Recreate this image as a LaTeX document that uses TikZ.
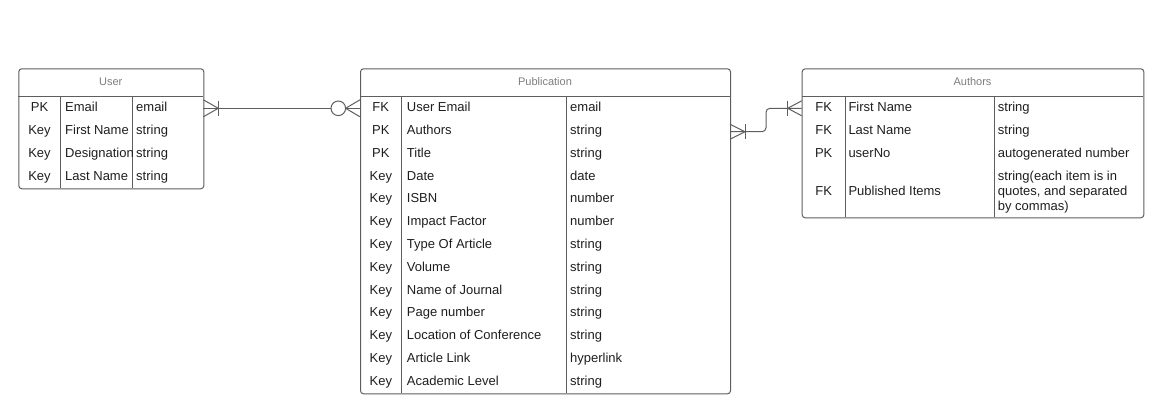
\documentclass[tikz,border=0pt]{standalone}
\usepackage{fontspec}
\setmainfont{Liberation Sans}
\usepackage{xcolor}
\usepackage{tikz}
\definecolor{er_line}{RGB}{94, 94, 94}
\definecolor{er_title}{RGB}{125, 125, 125}
\definecolor{er_text}{RGB}{30, 30, 30}

\tikzset{
  entity/.style={draw=er_line, line width=1pt, rounded corners=3pt, anchor=north west, inner sep=0pt},
  divider/.style={draw=er_line, line width=1pt},
  entity title/.style={text=er_title, font=\fontsize{11}{13}\selectfont, inner sep=0pt, anchor=base},
  field/.style={text=er_text, font=\fontsize{13}{15}\selectfont, inner sep=0pt, anchor=base west},
  key field/.style={field, anchor=base},
  relation/.style={draw=er_line, line width=1pt},
}

\begin{document}
\begin{tikzpicture}[x=1pt, y=-1pt]
\useasboundingbox (0,0) rectangle (1167,420);

% User table
\node[entity, minimum width=185pt, minimum height=120pt] (user) at (18.3,68.3) {};
\node[entity title] (user-title) at (110.8,85) {User};
\draw[divider] (18.3,96.7) -- (203.3,96.7);
\draw[divider] (60.7,96.7) -- (60.7,188.3);
\draw[divider] (132.3,96.7) -- (132.3,188.3);
\foreach \k/\n/\t [count=\i] in {PK/Email/email, Key/First Name/string, Key/Designation/string, Key/Last Name/string} {
  \node[key field] (user-k\i) at (39.5,{111.6+22.8*(\i-1)}) {\k};
  \node[field] (user-n\i) at (65,{111.6+22.8*(\i-1)}) {\n};
  \node[field] (user-t\i) at (136,{111.6+22.8*(\i-1)}) {\t};
}

% Publication table
\node[entity, minimum width=370pt, minimum height=325pt] (pub) at (360,68.3) {};
\node[entity title] (pub-title) at (545,85) {Publication};
\draw[divider] (360,96.7) -- (730,96.7);
\draw[divider] (401.7,96.7) -- (401.7,393.3);
\draw[divider] (566.7,96.7) -- (566.7,393.3);
\foreach \k/\n/\t [count=\i] in {FK/User Email/email, PK/Authors/string, PK/Title/string,
    Key/Date/date, Key/ISBN/number, Key/Impact Factor/number, Key/Type Of Article/string,
    Key/Volume/string, Key/Name of Journal/string, Key/Page number/string,
    Key/Location of Conference/string, Key/Article Link/hyperlink, Key/Academic Level/string} {
  \node[key field] (pub-k\i) at (380.8,{111.6+22.8*(\i-1)}) {\k};
  \node[field] (pub-n\i) at (406.7,{111.6+22.8*(\i-1)}) {\n};
  \node[field] (pub-t\i) at (570,{111.6+22.8*(\i-1)}) {\t};
}

% Authors table
\node[entity, minimum width=341.6pt, minimum height=149pt] (authors) at (801.7,68.3) {};
\node[entity title] (authors-title) at (972.5,85) {Authors};
\draw[divider] (801.7,96.7) -- (1143.3,96.7);
\draw[divider] (845,96.7) -- (845,217.3);
\draw[divider] (994.3,96.7) -- (994.3,217.3);
\foreach \k/\n/\t [count=\i] in {FK/First Name/string, FK/Last Name/string, PK/userNo/autogenerated number} {
  \node[key field] (authors-k\i) at (823.7,{111.6+22.8*(\i-1)}) {\k};
  \node[field] (authors-n\i) at (848.3,{111.6+22.8*(\i-1)}) {\n};
  \node[field] (authors-t\i) at (997.7,{111.6+22.8*(\i-1)}) {\t};
}
\node[key field] (authors-k4) at (823.7,195) {FK};
\node[field] (authors-n4) at (848.3,195) {Published Items};
\node[field, anchor=west, align=left] (authors-t4) at (997.7,192.2) {string(each item is in\\quotes, and separated\\by commas)};

% User -- Publication (one or many to zero or many)
\coordinate (user-pub-a) at (203.3,108.3);
\coordinate (user-pub-b) at (360,108.3);
\draw[relation] (user-pub-a) -- (user-pub-b);
\draw[relation] (user-pub-a) ++(0,-8.5) -- ++(15,8.5) -- ++(-15,8.5);
\draw[relation] (user-pub-a) ++(15,-7.5) -- ++(0,15);
\draw[relation] (user-pub-b) ++(0,-8.5) -- ++(-14.4,8.5) -- ++(14.4,8.5);
\draw[relation, fill=white] (user-pub-b) ++(-21.7,0) circle (7.3pt);

% Publication -- Authors (one or many to one or many)
\coordinate (pub-auth-a) at (730,131.7);
\coordinate (pub-auth-b) at (801.7,108.3);
\draw[relation, rounded corners=4pt] (pub-auth-a) -- ++(36,0) |- (pub-auth-b);
\draw[relation] (pub-auth-a) ++(0,-7.5) -- ++(15,7.5) -- ++(-15,7.5);
\draw[relation] (pub-auth-a) ++(15,-7.5) -- ++(0,15);
\draw[relation] (pub-auth-b) ++(0,-7.5) -- ++(-14,7.5) -- ++(14,7.5);
\draw[relation] (pub-auth-b) ++(-14,-7.5) -- ++(0,15);
\end{tikzpicture}
\end{document}
